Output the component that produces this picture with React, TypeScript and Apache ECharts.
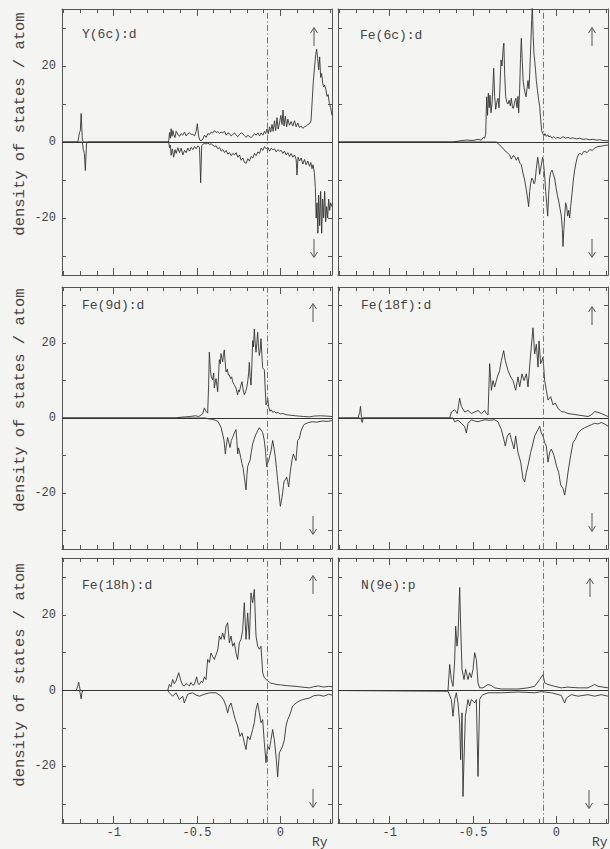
import React, { useEffect, useRef } from "react";
import * as echarts from "echarts";

// ---------------- data ----------------
const panelNames = ["Y(6c):d", "Fe(6c):d", "Fe(9d):d", "Fe(18f):d", "Fe(18h):d", "N(9e):p"];

const xMinorTicks = [-1.3, -1.2, -1.1, -1.0, -0.9, -0.8, -0.7, -0.6, -0.5, -0.4, -0.3, -0.2, -0.1, 0.0, 0.1, 0.2, 0.3];
const xMajorTicks = [-1, -0.5, 0];
const xTickLabels = [-1, -0.5, 0];
const yTicks = [-30, -20, -10, 0, 10, 20, 30];
const yTickLabels = [-20, 0, 20];
const fermiLevel = -0.083;
const unitLabel = "Ry";
const yTitle = "density of states / atom";

const y6cUp = [[-1.31,0],[-1.215,0],[-1.205,2.5],[-1.2,3],[-1.195,7.5],[-1.188,0.5],[-1.18,0],
[-0.67,0],[-0.665,2.5],[-0.66,1],[-0.655,3.5],[-0.65,1.5],[-0.645,3],[-0.64,2],[-0.632,1.2],[-0.625,2.8],[-0.615,2],[-0.605,1.5],[-0.595,2.2],[-0.585,1.8],[-0.575,2.6],[-0.565,1.6],[-0.555,2.2],[-0.545,2.4],[-0.535,2],[-0.525,2],[-0.515,1.6],[-0.505,2.8],[-0.498,4.8],[-0.49,1.5],[-0.483,0.5],[-0.475,0.3],[-0.465,0.8],[-0.455,1.8],[-0.445,1.2],[-0.435,2.2],[-0.425,2],[-0.415,2.6],[-0.405,2.4],[-0.395,3],[-0.385,2.5],[-0.375,2.7],[-0.365,2.3],[-0.355,2.6],[-0.345,2.4],[-0.335,2.8],[-0.325,1.8],[-0.315,2.4],[-0.305,2.2],[-0.295,1.6],[-0.285,2],[-0.275,2.4],[-0.265,1.8],[-0.255,1.4],[-0.245,2],[-0.235,2.4],[-0.225,2.2],[-0.215,1.6],[-0.205,1.2],[-0.195,1.8],[-0.185,1.4],[-0.175,1.2],[-0.165,1.6],[-0.155,2.2],[-0.145,1.8],[-0.135,2.4],[-0.125,1.6],[-0.115,2.4],[-0.105,1.8],[-0.095,2.8],[-0.088,2.2],[-0.08,3.4],[-0.072,2.2],[-0.065,4],[-0.058,2.6],[-0.05,4.6],[-0.043,2.8],[-0.035,5.6],[-0.028,3],[-0.02,6.4],[-0.013,3.4],[-0.005,5],[0.003,7],[0.01,4.6],[0.016,8.4],[0.022,4.2],[0.03,6.8],[0.038,4],[0.045,6],[0.055,4.4],[0.065,5.4],[0.075,4.2],[0.085,5.6],[0.095,4],[0.105,5],[0.115,3.8],[0.125,4.2],[0.135,3.6],[0.145,4],[0.155,4.2],[0.165,4.6],[0.175,4.8],[0.184,5.5],[0.19,10],[0.198,16],[0.206,20],[0.212,23],[0.218,24.4],[0.224,22],[0.23,19],[0.236,22.4],[0.242,17],[0.248,18],[0.254,15.5],[0.26,14.5],[0.266,15],[0.274,13.7],[0.28,12],[0.287,12.5],[0.294,10.2],[0.302,9],[0.31,7]];

const y6cDown = [[-1.31,0],[-1.188,0],[-1.182,-2],[-1.176,-3],[-1.17,-7.5],[-1.163,-0.5],[-1.155,0],
[-0.67,0],[-0.665,-1.5],[-0.66,-0.8],[-0.655,-3.5],[-0.648,-1.8],[-0.64,-4],[-0.632,-2],[-0.625,-3],[-0.615,-1.5],[-0.605,-2.8],[-0.595,-1.6],[-0.585,-3.4],[-0.575,-2.2],[-0.565,-2.8],[-0.555,-1.6],[-0.545,-2.4],[-0.535,-1.4],[-0.525,-2],[-0.515,-1.2],[-0.505,-1.8],[-0.495,-1],[-0.485,-1.4],[-0.478,-10.7],[-0.472,-1],[-0.465,-0.6],[-0.455,-0.4],[-0.445,-0.5],[-0.435,-0.3],[-0.425,-0.6],[-0.415,-0.5],[-0.405,-0.8],[-0.395,-1.2],[-0.385,-1],[-0.375,-1.8],[-0.365,-1.4],[-0.355,-2.4],[-0.345,-2],[-0.335,-2.8],[-0.325,-2.2],[-0.315,-3.2],[-0.305,-2.8],[-0.295,-3.6],[-0.285,-3],[-0.275,-3.4],[-0.265,-2.8],[-0.255,-4],[-0.245,-3.4],[-0.235,-4.8],[-0.225,-4.2],[-0.215,-5.4],[-0.205,-5.6],[-0.195,-4.4],[-0.185,-5],[-0.175,-3.8],[-0.165,-4.2],[-0.155,-3],[-0.145,-3.6],[-0.135,-2.6],[-0.125,-3],[-0.115,-1.6],[-0.105,-2.2],[-0.095,-1.2],[-0.085,-1.8],[-0.075,-1.4],[-0.065,-2.4],[-0.055,-1.6],[-0.045,-2],[-0.035,-1.8],[-0.025,-2.6],[-0.015,-2],[-0.005,-2.4],[0.005,-2.2],[0.015,-3],[0.025,-2.4],[0.035,-3.4],[0.045,-2.8],[0.055,-3.8],[0.065,-3],[0.075,-4],[0.085,-3.4],[0.095,-4.6],[0.1,-8.7],[0.106,-4],[0.115,-5],[0.125,-4.2],[0.135,-5.8],[0.145,-4.6],[0.155,-6],[0.165,-5],[0.175,-6.4],[0.183,-5.4],[0.19,-7],[0.196,-6],[0.204,-8],[0.21,-12],[0.215,-20],[0.22,-16],[0.225,-24],[0.23,-14],[0.236,-22],[0.242,-13],[0.248,-24],[0.254,-15],[0.26,-20],[0.266,-13],[0.272,-21],[0.278,-17],[0.284,-20],[0.29,-15],[0.296,-18],[0.302,-16],[0.31,-17]];

const fe6cUp = [[-1.31,0],[-0.62,0],[-0.58,0.3],[-0.54,0.5],[-0.5,0.4],[-0.47,0.7],[-0.45,0.5],[-0.44,1.2],[-0.43,1],[-0.424,2],[-0.418,11.9],[-0.413,7],[-0.408,12.8],[-0.403,9],[-0.398,12.3],[-0.392,7.7],[-0.386,10],[-0.381,14],[-0.376,19.4],[-0.37,12],[-0.364,8.6],[-0.357,10.5],[-0.35,11.5],[-0.344,9],[-0.338,15],[-0.332,21.6],[-0.326,20],[-0.32,24],[-0.315,26],[-0.31,18],[-0.304,11.9],[-0.297,10.5],[-0.29,10],[-0.283,11],[-0.276,9.5],[-0.27,11.5],[-0.263,9],[-0.257,8.9],[-0.25,10.5],[-0.243,11.5],[-0.236,9],[-0.23,12],[-0.226,7.7],[-0.22,14],[-0.215,22],[-0.21,27.3],[-0.204,21],[-0.199,16],[-0.194,14.4],[-0.188,13],[-0.182,11.9],[-0.176,14],[-0.17,16.2],[-0.164,14],[-0.158,20],[-0.153,26],[-0.148,32],[-0.144,36],[-0.139,28],[-0.134,23],[-0.13,21.6],[-0.125,19],[-0.12,16.2],[-0.113,13.5],[-0.106,11],[-0.1,9.5],[-0.094,6],[-0.088,3],[-0.082,2.3],[-0.075,1.6],[-0.068,2.2],[-0.06,1.5],[-0.052,1.9],[-0.044,1.3],[-0.036,1.6],[-0.025,1],[-0.015,1.4],[-0.005,1],[0.01,1.2],[0.025,0.9],[0.04,1.4],[0.055,1],[0.07,1.2],[0.085,0.9],[0.1,1.1],[0.12,0.8],[0.14,1],[0.16,0.7],[0.18,0.8],[0.2,0.6],[0.22,0.7],[0.24,0.5],[0.26,0.6],[0.28,0.4],[0.31,0.3]];

const fe6cDown = [[-1.31,0],[-0.36,0],[-0.345,-0.6],[-0.33,-1.2],[-0.315,-2],[-0.3,-2.6],[-0.29,-3],[-0.28,-3.4],[-0.27,-4.5],[-0.26,-3.6],[-0.25,-3.8],[-0.24,-4.8],[-0.23,-4],[-0.22,-5.5],[-0.21,-6],[-0.2,-8.2],[-0.19,-10],[-0.18,-12.6],[-0.172,-15],[-0.166,-17],[-0.16,-13],[-0.154,-10.9],[-0.147,-9.5],[-0.14,-10],[-0.134,-11],[-0.128,-10.5],[-0.12,-7],[-0.112,-4],[-0.105,-6],[-0.1,-8.5],[-0.094,-7],[-0.088,-5.5],[-0.082,-4],[-0.076,-6],[-0.07,-9],[-0.064,-13],[-0.058,-16],[-0.052,-19.5],[-0.046,-14],[-0.04,-9.5],[-0.034,-8],[-0.026,-7.4],[-0.018,-8.5],[-0.01,-9.5],[-0.002,-12],[0.006,-14],[0.014,-15.5],[0.022,-17.5],[0.03,-19.5],[0.036,-23],[0.04,-27.5],[0.045,-23],[0.05,-19.5],[0.056,-16],[0.062,-17],[0.068,-19.5],[0.074,-18],[0.08,-20],[0.086,-17],[0.094,-13.6],[0.102,-10],[0.11,-7.4],[0.118,-5.5],[0.126,-4],[0.134,-3.2],[0.142,-3],[0.152,-3.4],[0.162,-2.6],[0.172,-2.5],[0.185,-2.8],[0.2,-2],[0.215,-2.2],[0.23,-1.6],[0.25,-1.2],[0.27,-1.1],[0.29,-0.9],[0.31,-0.8]];

const fe9dUp = [[-1.31,0],[-0.63,0],[-0.6,0.2],[-0.57,0.3],[-0.54,0.4],[-0.51,0.6],[-0.49,0.4],[-0.475,0.8],[-0.465,1.2],[-0.456,2.7],[-0.446,1.8],[-0.436,1.3],[-0.43,9],[-0.426,17.6],[-0.42,13],[-0.414,11],[-0.406,10.2],[-0.4,12],[-0.396,8],[-0.39,9.5],[-0.386,10.5],[-0.38,8.5],[-0.376,7],[-0.371,11],[-0.366,15.6],[-0.36,14.5],[-0.356,17.2],[-0.351,16],[-0.346,15],[-0.341,17],[-0.336,18.2],[-0.331,15],[-0.326,12.3],[-0.318,13],[-0.312,11.5],[-0.306,11.5],[-0.298,10.5],[-0.292,11],[-0.286,9.7],[-0.278,9],[-0.272,8.5],[-0.266,8],[-0.261,7],[-0.256,6.2],[-0.251,7.5],[-0.246,7],[-0.238,8.5],[-0.23,9.7],[-0.223,7.5],[-0.216,6.2],[-0.209,7],[-0.202,8],[-0.195,10],[-0.19,12],[-0.186,14.9],[-0.181,11],[-0.176,8.8],[-0.171,14],[-0.166,20.7],[-0.161,19],[-0.156,23.8],[-0.151,20],[-0.146,17.6],[-0.141,20],[-0.136,22.9],[-0.131,19],[-0.126,16.7],[-0.121,18],[-0.116,21.2],[-0.111,17],[-0.106,13.4],[-0.1,13],[-0.096,12.9],[-0.091,8],[-0.086,3.5],[-0.081,4],[-0.076,5.3],[-0.07,3],[-0.062,1.8],[-0.055,2.2],[-0.045,1.5],[-0.035,1.8],[-0.026,1.3],[-0.015,1.5],[0,1.1],[0.015,1.2],[0.034,0.9],[0.05,0.8],[0.07,0.7],[0.09,0.6],[0.114,0.5],[0.14,0.4],[0.174,0.3],[0.2,0.5],[0.24,0.6],[0.28,0.5],[0.31,0.4]];

const fe9dDown = [[-1.31,0],[-0.45,0],[-0.43,-0.2],[-0.406,-0.4],[-0.39,-0.6],[-0.375,-0.9],[-0.366,-1.6],[-0.356,-2.5],[-0.346,-4.3],[-0.338,-6],[-0.33,-9.6],[-0.323,-7],[-0.316,-5.2],[-0.309,-6.5],[-0.302,-7.9],[-0.294,-6],[-0.286,-5.2],[-0.276,-4],[-0.266,-3.1],[-0.261,-6],[-0.256,-9.6],[-0.251,-8],[-0.246,-8.8],[-0.238,-10.5],[-0.23,-12.2],[-0.223,-13.5],[-0.216,-15.8],[-0.211,-17.5],[-0.206,-19.2],[-0.2,-15],[-0.196,-13],[-0.189,-12],[-0.182,-11.4],[-0.174,-9],[-0.166,-6.9],[-0.156,-5.5],[-0.146,-4.3],[-0.136,-3.4],[-0.126,-2.6],[-0.116,-3.2],[-0.106,-3.9],[-0.096,-6],[-0.089,-9],[-0.082,-13],[-0.076,-12],[-0.07,-11.4],[-0.063,-10],[-0.056,-8.8],[-0.046,-6],[-0.038,-8],[-0.03,-10.5],[-0.023,-13.5],[-0.016,-16.7],[-0.008,-20],[0,-23.6],[0.007,-22],[0.014,-20],[0.019,-18],[0.024,-16.7],[0.031,-16.5],[0.038,-15.8],[0.044,-17],[0.05,-18.4],[0.057,-15.5],[0.064,-13],[0.071,-11],[0.078,-9.6],[0.086,-10.5],[0.094,-11.4],[0.1,-8],[0.104,-6],[0.114,-5.5],[0.124,-3.5],[0.134,-2.4],[0.144,-1.7],[0.164,-1.3],[0.19,-1],[0.22,-1.1],[0.25,-0.8],[0.28,-0.9],[0.31,-0.7]];

const fe18fUp = [[-1.31,0],[-1.19,0],[-1.18,1.5],[-1.175,3.1],[-1.17,0.5],[-1.165,0],
[-0.64,0],[-0.63,1.6],[-0.61,2.2],[-0.594,1.2],[-0.58,5.3],[-0.57,3.1],[-0.55,1.6],[-0.53,2],[-0.51,1.2],[-0.49,1.6],[-0.47,2],[-0.45,1.2],[-0.43,2],[-0.42,1.2],[-0.41,0.8],[-0.4,14.5],[-0.39,7.4],[-0.38,10],[-0.37,8.3],[-0.354,11],[-0.34,12.7],[-0.33,15.3],[-0.316,18],[-0.306,15.3],[-0.29,12.7],[-0.274,11],[-0.26,10],[-0.244,7.4],[-0.23,11],[-0.22,8.3],[-0.206,11.8],[-0.194,10],[-0.18,11.8],[-0.17,8.3],[-0.154,17.1],[-0.14,24.1],[-0.13,17.1],[-0.12,19.7],[-0.11,13.6],[-0.104,20.6],[-0.094,14.5],[-0.08,16.2],[-0.07,10],[-0.06,7.4],[-0.05,4.8],[-0.034,5.7],[-0.02,3.5],[-0.006,4],[0.01,2.6],[0.03,1.7],[0.05,1.6],[0.07,1.2],[0.1,1],[0.13,0.8],[0.16,0.6],[0.19,0.4],[0.21,0.8],[0.23,1.7],[0.25,1.5],[0.27,1.2],[0.295,0.7],[0.31,0.4]];

const fe18fDown = [[-1.31,0],[-1.175,0],[-1.17,-0.5],[-1.165,-1.2],[-1.16,-0.3],[-1.155,0],
[-0.62,0],[-0.61,-1],[-0.59,-0.6],[-0.57,-1.4],[-0.55,-2.3],[-0.54,-4],[-0.53,-1.4],[-0.51,-0.5],[-0.49,-0.8],[-0.47,-1],[-0.45,-0.7],[-0.43,-0.5],[-0.4,-0.6],[-0.37,-0.5],[-0.35,-1],[-0.33,-3.1],[-0.32,-4.8],[-0.306,-7.5],[-0.294,-4.8],[-0.28,-4],[-0.27,-5.7],[-0.254,-8.3],[-0.244,-4.8],[-0.23,-9.2],[-0.214,-11.8],[-0.2,-16.2],[-0.19,-17.1],[-0.18,-14.5],[-0.17,-12.7],[-0.154,-9.2],[-0.144,-7.5],[-0.13,-4.8],[-0.11,-3.1],[-0.1,-2.2],[-0.09,-4],[-0.08,-4.8],[-0.07,-6.6],[-0.06,-7.5],[-0.05,-11.8],[-0.04,-9.2],[-0.03,-8.3],[-0.014,-10],[0,-12.7],[0.014,-14.5],[0.026,-17.9],[0.04,-18.8],[0.05,-20.6],[0.06,-17.9],[0.07,-14.5],[0.086,-10],[0.1,-6.6],[0.114,-5.7],[0.13,-4],[0.15,-3.1],[0.17,-2.6],[0.19,-2.2],[0.21,-1.8],[0.23,-1.4],[0.25,-1.6],[0.27,-1.2],[0.29,-1.6],[0.31,-2.2]];

const fe18hUp = [[-1.31,0],[-1.225,0],[-1.215,1.2],[-1.21,2.2],[-1.205,1],[-1.2,0],
[-0.676,0],[-0.666,1.6],[-0.656,1],[-0.646,2.9],[-0.636,1.8],[-0.626,2.5],[-0.61,4.7],[-0.596,2.5],[-0.586,1.4],[-0.576,1.2],[-0.566,1.8],[-0.556,1.6],[-0.546,1.2],[-0.536,2.1],[-0.526,1.4],[-0.516,1.6],[-0.502,3.6],[-0.494,1.8],[-0.486,1.6],[-0.476,2.4],[-0.466,2.1],[-0.456,3.6],[-0.446,2.9],[-0.436,8.2],[-0.426,7.4],[-0.416,9.9],[-0.406,9],[-0.396,8.2],[-0.382,9.9],[-0.374,11],[-0.366,14.4],[-0.356,13.5],[-0.346,15.2],[-0.336,13.5],[-0.326,17],[-0.316,17.9],[-0.306,12.6],[-0.296,14.4],[-0.286,11.7],[-0.276,12.6],[-0.266,9.9],[-0.256,8.2],[-0.246,12.6],[-0.236,13.5],[-0.226,15.9],[-0.216,23.2],[-0.206,13.5],[-0.196,20.5],[-0.186,13.5],[-0.176,25.8],[-0.166,23.2],[-0.156,26.7],[-0.146,14.4],[-0.136,11.7],[-0.126,10.9],[-0.116,11.7],[-0.106,4.7],[-0.096,3.4],[-0.086,3],[-0.076,2.5],[-0.066,2.2],[-0.056,1.9],[-0.04,1.8],[-0.026,1.6],[0,1.5],[0.034,1.3],[0.06,1.2],[0.094,1.1],[0.13,0.9],[0.174,0.7],[0.2,1],[0.23,1.2],[0.26,0.9],[0.29,1.1],[0.31,1]];

const fe18hDown = [[-1.31,0],[-1.205,0],[-1.2,-1],[-1.195,-2.2],[-1.19,-0.5],[-1.185,0],
[-0.676,0],[-0.666,-0.6],[-0.646,-1.5],[-0.626,-0.6],[-0.606,-2.4],[-0.586,-1.5],[-0.576,-3.3],[-0.556,-1],[-0.526,-0.6],[-0.506,-1.2],[-0.486,-1.5],[-0.456,-1],[-0.426,-0.6],[-0.386,-0.6],[-0.356,-1.5],[-0.34,-2.5],[-0.326,-4.1],[-0.316,-5.9],[-0.306,-4.1],[-0.296,-3.3],[-0.286,-5],[-0.27,-7.7],[-0.256,-9.4],[-0.242,-12.1],[-0.23,-11.2],[-0.216,-13.8],[-0.206,-15.6],[-0.196,-12.1],[-0.182,-13],[-0.166,-10.3],[-0.156,-8.5],[-0.146,-5],[-0.136,-3.3],[-0.126,-5.9],[-0.116,-8.5],[-0.106,-7.7],[-0.096,-13.8],[-0.086,-19.1],[-0.076,-14.7],[-0.066,-15.6],[-0.056,-13],[-0.046,-10.3],[-0.036,-13],[-0.026,-17.3],[-0.016,-22.8],[-0.006,-16.5],[0.004,-15.6],[0.014,-14.7],[0.024,-13],[0.034,-9.4],[0.044,-7.7],[0.054,-6.8],[0.074,-4.1],[0.094,-3.3],[0.114,-2.8],[0.134,-2.4],[0.174,-2],[0.2,-1.4],[0.23,-1.2],[0.26,-1.5],[0.29,-1],[0.31,-1.2]];

const n9eUp = [[-1.31,0],[-0.65,0],[-0.64,6.9],[-0.63,2.9],[-0.62,1.1],[-0.61,7.8],[-0.604,17],[-0.596,11.7],[-0.59,14.4],[-0.584,22],[-0.58,27.2],[-0.574,17],[-0.566,5.6],[-0.554,2.9],[-0.544,5.6],[-0.53,2.9],[-0.52,4.7],[-0.51,3.4],[-0.5,5.6],[-0.49,10],[-0.48,8.2],[-0.47,2],[-0.46,0.7],[-0.44,0.7],[-0.41,1.6],[-0.39,1.3],[-0.37,0.7],[-0.33,0.4],[-0.23,0.4],[-0.17,0.7],[-0.13,1.1],[-0.1,2.9],[-0.08,4.2],[-0.07,2],[-0.05,1.6],[-0.01,1.1],[0.03,0.7],[0.07,0.9],[0.13,0.7],[0.19,0.7],[0.23,1.6],[0.25,1.1],[0.31,0.7]];

const n9eDown = [[-1.31,0],[-0.65,-0.2],[-0.63,-2.4],[-0.62,-6.8],[-0.61,-2.4],[-0.6,-0.6],[-0.59,-3.3],[-0.58,-8.6],[-0.574,-18.3],[-0.566,-5.9],[-0.56,-28],[-0.554,-18.3],[-0.546,-6.8],[-0.536,-4.1],[-0.53,-2.4],[-0.52,-4.1],[-0.51,-2.4],[-0.5,-2.8],[-0.49,-3.3],[-0.48,-2.4],[-0.47,-22.7],[-0.46,-2.4],[-0.45,-1.5],[-0.44,-1.1],[-0.41,-0.6],[-0.33,-0.6],[-0.23,-0.4],[-0.13,-0.6],[-0.09,-0.3],[-0.03,-0.6],[0.03,-1.3],[0.05,-3.3],[0.06,-2],[0.09,-1.1],[0.13,-1.5],[0.19,-1.1],[0.23,-1.5],[0.27,-1.1],[0.31,-1.5]];

const upSeries = [y6cUp, fe6cUp, fe9dUp, fe18fUp, fe18hUp, n9eUp];
const downSeries = [y6cDown, fe6cDown, fe9dDown, fe18fDown, fe18hDown, n9eDown];

// ---------------- layout / style ----------------
const XMIN = -1.31, XMAX = 0.31, YMIN = -35, YMAX = 35;
const COLS = [{ left: 62, width: 270 }, { left: 338, width: 270 }];
const ROWS = [{ top: 9, height: 266 }, { top: 287, height: 262 }, { top: 558, height: 265 }];
const FONT = "'Liberation Mono', 'DejaVu Sans Mono', monospace";
const INK = "#333";
const FRAME = "#555";
const TEXT = "#444";
const BG = "#f4f4f2";

const labelPos = [[82, 34], [360, 35], [82, 305], [361, 305], [82, 585], [361, 585]];
const upArrowPos = [[314, 37], [592, 37], [313, 313], [592, 316], [313, 585], [590, 588]];
const downArrowPos = [[314, 248], [592, 248], [313, 525], [592, 522], [313, 798], [589, 799]];
const titleCenters = [124, 400, 675];

function arrow(cx: number, cy: number, up: boolean) {
  const s = up ? -1 : 1;
  return {
    type: "group",
    silent: true,
    children: [
      { type: "line", shape: { x1: cx, y1: cy - 9, x2: cx, y2: cy + 9 }, style: { stroke: "#555", lineWidth: 1 } },
      {
        type: "polyline",
        shape: { points: [[cx - 3.5, cy + s * 4], [cx, cy + s * 9.5], [cx + 3.5, cy + s * 4]] },
        style: { stroke: "#555", lineWidth: 1, fill: "none" },
      },
    ],
  };
}

function buildOption() {
  const grid: any[] = [];
  const xAxis: any[] = [];
  const yAxis: any[] = [];
  const series: any[] = [];
  const graphic: any[] = [];

  panelNames.forEach((name, i) => {
    const r = Math.floor(i / 2);
    const c = i % 2;
    grid.push({ left: COLS[c].left, top: ROWS[r].top, width: COLS[c].width, height: ROWS[r].height });

    const baseX = {
      type: "value", gridIndex: i, min: XMIN, max: XMAX,
      splitLine: { show: false },
      axisLine: { show: false, onZero: false },
      axisLabel: { show: false },
    };
    const lineOn = { show: true, onZero: false, lineStyle: { color: FRAME, width: 1 } };
    const minorTick = { show: true, inside: true, length: 4, customValues: xMinorTicks, lineStyle: { color: FRAME, width: 1 } };
    const majorTick = { show: true, inside: true, length: 7, customValues: xMajorTicks, lineStyle: { color: FRAME, width: 1 } };
    xAxis.push({ ...baseX, position: "bottom", axisLine: lineOn, axisTick: minorTick });
    xAxis.push({
      ...baseX, position: "bottom", axisTick: majorTick,
      axisLabel: {
        show: r === 2, customValues: xTickLabels, margin: 4, fontFamily: FONT, fontSize: 12, color: TEXT,
        formatter: (v: number) => String(v),
      },
    });
    xAxis.push({ ...baseX, position: "top", axisLine: lineOn, axisTick: minorTick });
    xAxis.push({ ...baseX, position: "top", axisTick: majorTick });

    const baseY = {
      type: "value", gridIndex: i, min: YMIN, max: YMAX,
      splitLine: { show: false },
      axisLine: lineOn,
      axisTick: { show: true, inside: true, length: 4, customValues: yTicks, lineStyle: { color: FRAME, width: 1 } },
    };
    yAxis.push({
      ...baseY, position: "left",
      axisLabel: {
        show: c === 0, customValues: yTickLabels, margin: 6, fontFamily: FONT, fontSize: 12, color: TEXT,
        formatter: (v: number) => String(v),
      },
    });
    yAxis.push({ ...baseY, position: "right", axisLabel: { show: false } });

    const lineCommon = {
      type: "line", xAxisIndex: i * 4, yAxisIndex: i * 2, showSymbol: false, symbol: "none",
      lineStyle: { color: INK, width: 0.9 }, silent: true, clip: true,
    };
    series.push({
      ...lineCommon, name: name + " up", data: upSeries[i],
      markLine: {
        silent: true, symbol: "none", label: { show: false },
        data: [
          { yAxis: 0, lineStyle: { color: INK, width: 1, type: "solid" } },
          { xAxis: fermiLevel, lineStyle: { color: "#666", width: 0.9, type: [6, 2.5, 1.2, 2.5] } },
        ],
      },
    });
    series.push({ ...lineCommon, name: name + " down", data: downSeries[i] });

    graphic.push({
      type: "text", x: labelPos[i][0], y: labelPos[i][1], silent: true,
      style: { text: name, fontFamily: FONT, fontSize: 13, fill: TEXT, align: "left", verticalAlign: "middle" },
    });
    graphic.push(arrow(upArrowPos[i][0], upArrowPos[i][1], true));
    graphic.push(arrow(downArrowPos[i][0], downArrowPos[i][1], false));
  });

  titleCenters.forEach((cy) => {
    graphic.push({
      type: "text", x: 20, y: cy, rotation: Math.PI / 2, silent: true,
      style: { text: yTitle, fontFamily: FONT, fontSize: 15.5, fill: TEXT, align: "center", verticalAlign: "middle" },
    });
  });
  [312, 592].forEach((x) => {
    graphic.push({
      type: "text", x, y: 842, silent: true,
      style: { text: unitLabel, fontFamily: FONT, fontSize: 13, fill: TEXT, align: "left", verticalAlign: "middle" },
    });
  });

  return {
    animation: false,
    backgroundColor: BG,
    grid, xAxis, yAxis, series, graphic,
  };
}

export default function App() {
  const ref = useRef<HTMLDivElement>(null);
  useEffect(() => {
    if (!ref.current) return;
    const chart = echarts.init(ref.current, undefined, { renderer: "svg" });
    chart.setOption(buildOption() as any);
    return () => chart.dispose();
  }, []);
  return (
    <div
      ref={ref}
      style={{ position: "absolute", left: 0, top: 0, width: 610, height: 849, background: BG }}
    />
  );
}
